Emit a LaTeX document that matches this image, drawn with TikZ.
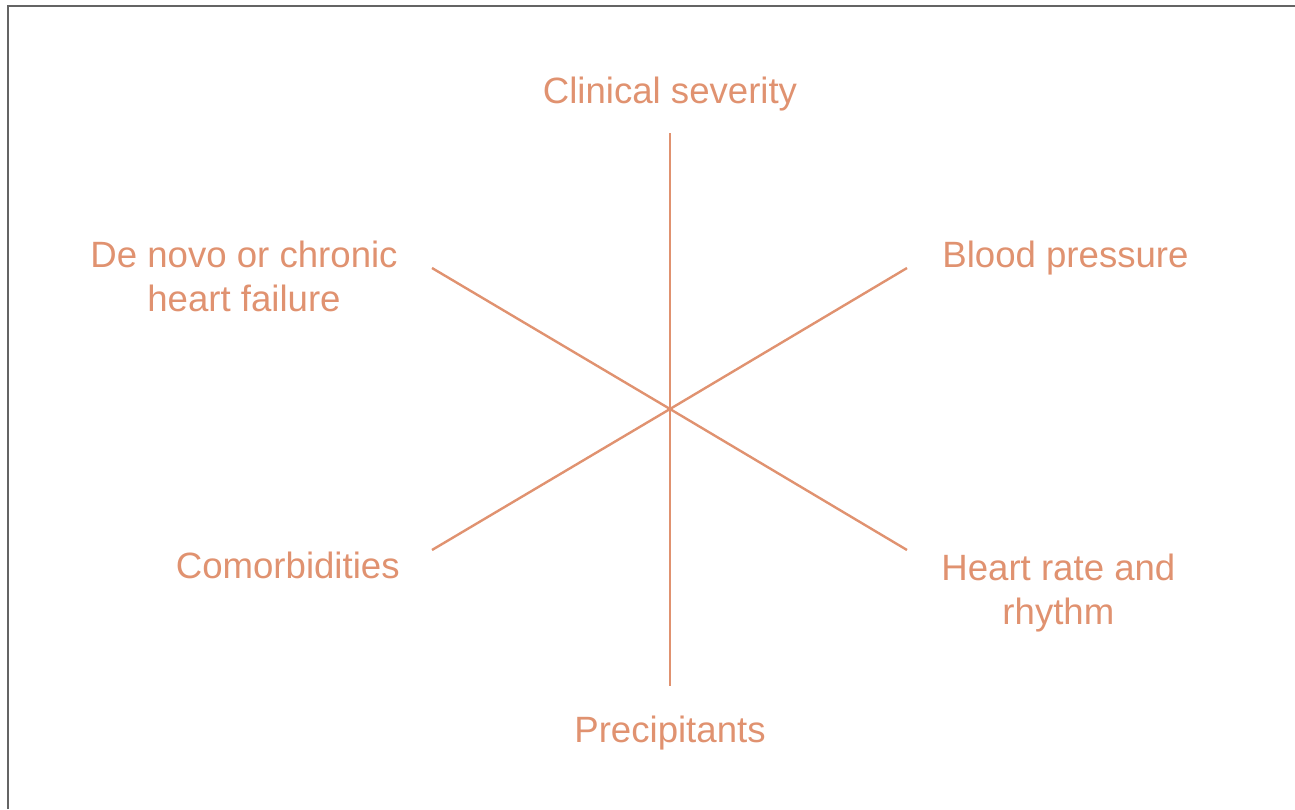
\documentclass[tikz,border=0pt]{standalone}
\usepackage{fontspec}
\setmainfont{Liberation Sans}
\usepackage{tikz}
\definecolor{salmon}{RGB}{224,146,112}
\definecolor{frame}{RGB}{100,100,100}

\begin{document}
\begin{tikzpicture}[x=0.5pt,y=0.5pt,yscale=-1,xscale=1,
  spoke/.style={draw=salmon, line width=1.2pt},
  label/.style={text=salmon, inner sep=0pt, align=center, font=\fontsize{18.3}{22}\selectfont}]
\useasboundingbox (0,0) rectangle (1295,809);

%Frame
\draw [frame, line width=1.2pt] (8,809) -- (8,6) -- (1295,6) ;

%Spoke ends
\coordinate (hub) at (670,409);
\coordinate (top) at (670,133);
\coordinate (bottom) at (670,686);
\coordinate (upleft) at (432,268);
\coordinate (upright) at (907,268);
\coordinate (lowleft) at (432,550);
\coordinate (lowright) at (907,550);

%Straight Lines
\draw [spoke] (top) -- (bottom) ;
\draw [spoke] (upleft) -- (hub) -- (lowright) ;
\draw [spoke] (lowleft) -- (hub) -- (upright) ;

% Text Node
\node [label, anchor=base] (severity) at (670,103) {Clinical severity};
% Text Node
\node [label, anchor=base] (precip) at (670,742) {Precipitants};
% Text Node
\node [label, anchor=base west] (pressure) at (942,267) {Blood pressure};
% Text Node
\node [label, anchor=base west] (rhythm) at (941,624) {Heart rate and\\rhythm};
% Text Node
\node [label, anchor=base east] (denovo) at (398,311) {De novo or chronic\\heart failure};
% Text Node
\node [label, anchor=base east] (comorb) at (400,578) {Comorbidities};

\end{tikzpicture}
\end{document}
